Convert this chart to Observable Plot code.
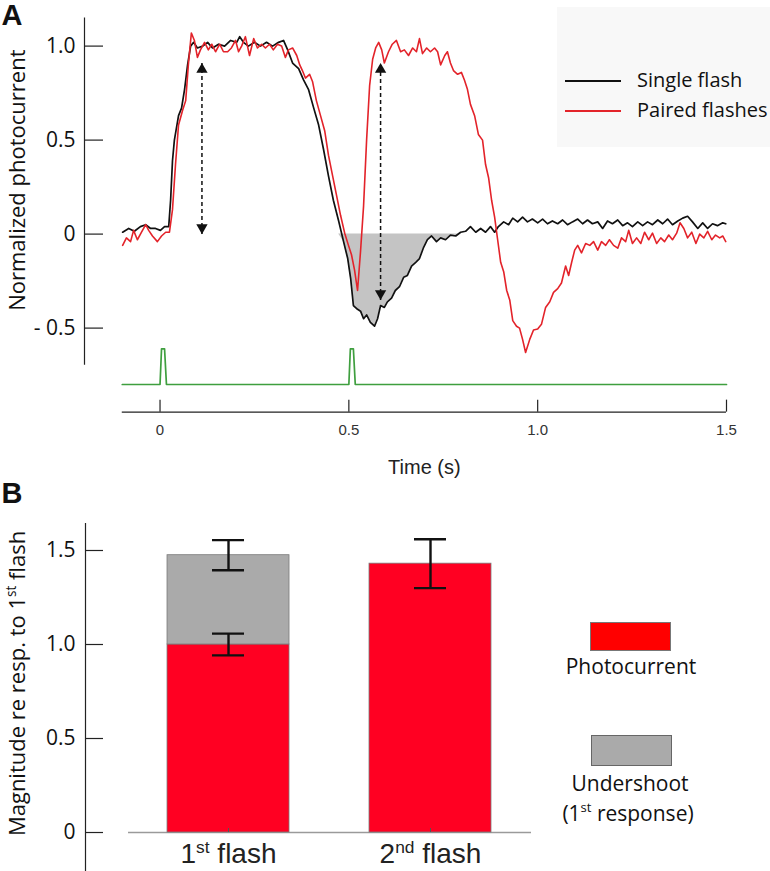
<!DOCTYPE html>
<html><head><meta charset="utf-8">
<script src="https://cdn.jsdelivr.net/npm/d3@7"></script>
<script src="https://cdn.jsdelivr.net/npm/@observablehq/plot@0.6"></script>
<style>
body{margin:0;background:#fff;}
#wrap{position:relative;width:770px;height:871px;overflow:hidden;font-family:"Open Sans",sans-serif;color:#111;}
#wrap svg{position:absolute;left:0;}
.abs{position:absolute;}
.lg-text{position:absolute;white-space:nowrap;line-height:1;}
</style></head><body><div id="wrap"></div>
<script>
// ---------------- Panel A data ----------------
const singleFlash = [[-0.099,0.01],[-0.083,0.03],[-0.068,0.015],[-0.052,0.04],[-0.038,0.05],[-0.025,0.03],[-0.012,0.03],[0.001,0.02],[0.012,0.04],[0.023,0.04],[0.028,0.18],[0.033,0.39],[0.038,0.5],[0.049,0.63],[0.057,0.67],[0.065,0.77],[0.073,0.9],[0.081,1.0],[0.089,1.02],[0.099,0.99],[0.113,1.0],[0.126,1.02],[0.139,0.99],[0.155,1.01],[0.171,1.0],[0.187,1.03],[0.203,1.02],[0.211,1.05],[0.221,1.02],[0.234,1.0],[0.25,1.02],[0.266,1.0],[0.282,1.02],[0.298,1.0],[0.314,1.02],[0.327,1.03],[0.338,0.98],[0.351,0.91],[0.367,0.88],[0.38,0.82],[0.393,0.77],[0.407,0.67],[0.42,0.58],[0.433,0.45],[0.446,0.31],[0.459,0.18],[0.473,0.07],[0.486,-0.04],[0.497,-0.13],[0.505,-0.24],[0.512,-0.38],[0.523,-0.40],[0.531,-0.41],[0.539,-0.45],[0.547,-0.43],[0.557,-0.47],[0.568,-0.49],[0.576,-0.45],[0.584,-0.38],[0.594,-0.39],[0.602,-0.36],[0.613,-0.34],[0.623,-0.30],[0.634,-0.28],[0.645,-0.23],[0.655,-0.22],[0.666,-0.17],[0.677,-0.15],[0.687,-0.13],[0.698,-0.07],[0.708,-0.03],[0.719,-0.01],[0.732,-0.04],[0.743,-0.02],[0.756,-0.03],[0.769,-0.005],[0.783,-0.01],[0.796,0.01],[0.809,0.015],[0.822,0.04],[0.836,0.01],[0.849,0.03],[0.862,0.01],[0.875,0.04],[0.886,0.01],[0.896,0.04],[0.91,0.065],[0.923,0.05],[0.934,0.085],[0.947,0.065],[0.96,0.09],[0.973,0.065],[0.986,0.08],[1.0,0.06],[1.013,0.08],[1.026,0.055],[1.039,0.07],[1.053,0.055],[1.066,0.075],[1.079,0.05],[1.092,0.065],[1.106,0.08],[1.119,0.055],[1.132,0.075],[1.145,0.055],[1.159,0.065],[1.172,0.03],[1.185,0.07],[1.198,0.055],[1.212,0.075],[1.225,0.045],[1.238,0.06],[1.251,0.04],[1.265,0.065],[1.278,0.045],[1.291,0.065],[1.304,0.05],[1.318,0.075],[1.331,0.055],[1.344,0.08],[1.357,0.05],[1.371,0.07],[1.384,0.085],[1.397,0.095],[1.41,0.065],[1.424,0.03],[1.437,0.06],[1.45,0.03],[1.463,0.055],[1.476,0.045],[1.49,0.06],[1.498,0.055]];

const pairedFlashes = [[-0.099,-0.06],[-0.089,-0.02],[-0.078,-0.04],[-0.07,0.02],[-0.06,-0.03],[-0.049,0.01],[-0.038,0.05],[-0.03,0.02],[-0.02,-0.01],[-0.007,-0.04],[0.004,-0.01],[0.015,0.01],[0.025,0.01],[0.033,0.13],[0.041,0.37],[0.049,0.58],[0.06,0.66],[0.068,0.71],[0.075,0.9],[0.083,1.07],[0.091,1.03],[0.099,0.94],[0.107,0.98],[0.118,1.02],[0.128,0.98],[0.137,1.01],[0.147,0.97],[0.158,1.01],[0.168,0.97],[0.179,0.97],[0.189,0.99],[0.2,1.03],[0.208,0.97],[0.216,1.0],[0.226,1.05],[0.237,0.95],[0.248,1.04],[0.258,0.99],[0.269,1.01],[0.279,0.99],[0.29,1.01],[0.3,0.98],[0.311,1.01],[0.322,1.0],[0.332,0.94],[0.34,0.98],[0.351,0.99],[0.362,0.95],[0.37,0.9],[0.377,0.87],[0.385,0.83],[0.396,0.85],[0.404,0.81],[0.414,0.71],[0.425,0.63],[0.436,0.55],[0.446,0.42],[0.457,0.31],[0.467,0.21],[0.478,0.1],[0.489,0.005],[0.499,-0.06],[0.507,-0.11],[0.515,-0.19],[0.523,-0.30],[0.531,-0.09],[0.539,0.15],[0.547,0.5],[0.555,0.79],[0.563,0.93],[0.571,0.99],[0.579,1.02],[0.587,0.98],[0.594,0.91],[0.605,0.97],[0.615,1.01],[0.626,1.03],[0.637,0.97],[0.647,0.98],[0.658,0.95],[0.669,0.99],[0.679,0.97],[0.687,1.04],[0.695,0.96],[0.706,0.99],[0.716,0.97],[0.727,0.99],[0.735,0.97],[0.743,0.9],[0.754,0.95],[0.761,0.97],[0.769,0.91],[0.777,0.87],[0.788,0.85],[0.798,0.86],[0.806,0.82],[0.814,0.77],[0.822,0.69],[0.833,0.63],[0.843,0.53],[0.854,0.5],[0.862,0.37],[0.87,0.3],[0.878,0.18],[0.886,0.09],[0.894,-0.03],[0.902,-0.15],[0.91,-0.2],[0.918,-0.3],[0.926,-0.35],[0.934,-0.46],[0.944,-0.49],[0.952,-0.5],[0.96,-0.56],[0.968,-0.63],[0.979,-0.56],[0.989,-0.51],[1.0,-0.505],[1.01,-0.48],[1.021,-0.39],[1.032,-0.36],[1.042,-0.31],[1.053,-0.29],[1.063,-0.26],[1.074,-0.17],[1.082,-0.22],[1.09,-0.15],[1.098,-0.085],[1.106,-0.06],[1.116,-0.1],[1.127,-0.05],[1.138,-0.06],[1.148,-0.04],[1.159,-0.085],[1.169,-0.04],[1.18,-0.06],[1.19,-0.03],[1.201,-0.06],[1.212,-0.075],[1.222,-0.02],[1.233,-0.04],[1.241,0.02],[1.251,-0.05],[1.262,-0.02],[1.273,-0.05],[1.283,0.01],[1.294,-0.03],[1.304,0.005],[1.315,-0.05],[1.326,-0.02],[1.336,-0.04],[1.347,-0.005],[1.357,-0.03],[1.368,0.005],[1.377,0.06],[1.387,0.03],[1.397,-0.02],[1.408,0.01],[1.419,-0.05],[1.429,0.0],[1.44,-0.02],[1.45,0.015],[1.461,-0.03],[1.471,-0.005],[1.482,-0.02],[1.49,-0.01],[1.498,-0.04]];

// light stimulus trace (drawn in the same units below the responses)
const stimulus = [[-0.1,-0.8],[0.0,-0.8],[0.004,-0.61],[0.012,-0.61],[0.017,-0.8],[0.5,-0.8],[0.504,-0.61],[0.512,-0.61],[0.517,-0.8],[1.5,-0.8]];

// undershoot window (grey area under zero)
const undershootWindow = [0.47, 0.80];

// amplitude arrows
const arrowTime = [0.111, 0.584];
const arrowBottom = [0.0, -0.35];
const arrowTop = [0.91, 0.91];

const yTicksA = [1.0, 0.5, 0, -0.5];
const yTickLabelsA = ["1.0", "0.5", "0", "- 0.5"];
const xTicksA = [0, 0.5, 1.0, 1.5];
const xTickLabelsA = ["0", "0.5", "1.0", "1.5"];
const legendA = ["Single flash", "Paired flashes"];

// ---------------- Panel B data ----------------
const categories = ["1st flash", "2nd flash"];
const photocurrent = [1.0, 1.43];
const photocurrentErr = [0.058, 0.13];
const undershoot = [0.475, 0];
const undershootErr = [0.08, 0];
const yTicksB = [0, 0.5, 1.0, 1.5];
const yTickLabelsB = ["0", "0.5", "1.0", "1.5"];
const legendB = ["Photocurrent", "Undershoot", "(1st response)"];

// ---------------- layout / style ----------------
const BLACK = "#111", RED = "#e3232a", GREEN = "#3f9f3f", GREY_FILL = "#c4c4c4";
const BAR_RED = "#ff0022", BAR_GREY = "#aaaaaa";
const xDomA = [-0.2, 1.5], yDomA = [-1.3, 1.2];
const pxA = 642 / 1.7, pyA = 188;
const xAxisV = -0.947;           // level of the time axis
const yAxisTop = 1.149, yAxisBottom = -0.697;

const arrows = arrowTime.map((t, i) => ({t, lo: arrowBottom[i], hi: arrowTop[i]}));
const areaData = singleFlash.filter(d => d[0] >= undershootWindow[0] && d[0] <= undershootWindow[1]);

const plotA = Plot.plot({
  width: 770, height: 480,
  marginLeft: 84, marginRight: 44, marginTop: 8, marginBottom: 2,
  x: {domain: xDomA, axis: null},
  y: {domain: yDomA, axis: null},
  style: {fontFamily: "Open Sans", background: "transparent", overflow: "visible"},
  marks: [
    Plot.areaY(areaData, {x: d => d[0], y1: 0, y2: d => Math.min(d[1], 0), fill: GREY_FILL}),
    Plot.line(singleFlash, {x: d => d[0], y: d => d[1], stroke: BLACK, strokeWidth: 1.7}),
    Plot.line(pairedFlashes, {x: d => d[0], y: d => d[1], stroke: RED, strokeWidth: 1.6}),
    Plot.line(stimulus, {x: d => d[0], y: d => d[1], stroke: GREEN, strokeWidth: 1.7, curve: "linear"}),
    // dashed amplitude arrows
    Plot.link(arrows, {x1: "t", x2: "t", y1: "lo", y2: "hi", stroke: BLACK, strokeWidth: 1.5, strokeDasharray: "4,3"}),
    Plot.dot(arrows, {x: "t", y: "hi", symbol: "triangle", r: 4.2, fill: BLACK, stroke: "none", dy: 6.5}),
    Plot.dot(arrows, {x: "t", y: "lo", symbol: "triangle", rotate: 180, r: 4.2, fill: BLACK, stroke: "none", dy: -6.5}),
    // y axis
    Plot.ruleX([xDomA[0]], {y1: yAxisTop, y2: yAxisBottom, stroke: "#222", strokeWidth: 1.2}),
    Plot.ruleY(yTicksA, {y: d => d, x1: xDomA[0], x2: xDomA[0] + 19 / pxA, stroke: "#222", strokeWidth: 1.2}),
    Plot.text(yTicksA, {x: xDomA[0], y: d => d, text: (d, i) => yTickLabelsA[i], dx: -9, textAnchor: "end", fontSize: 21, fill: "#111"}),
    Plot.text(["Normalized photocurrent"], {x: xDomA[0], y: 0.287, rotate: -90, dx: -67, fontSize: 22, fill: "#111"}),
    // time axis
    Plot.ruleY([xAxisV], {x1: -0.1, x2: 1.5, stroke: "#222", strokeWidth: 1.2}),
    Plot.ruleX(xTicksA, {x: d => d, y1: xAxisV, y2: xAxisV + 12 / pyA, stroke: "#222", strokeWidth: 1.2}),
    Plot.text(xTicksA, {x: d => d, y: xAxisV, dy: 18, text: (d, i) => xTickLabelsA[i], fontFamily: "Liberation Sans", fontSize: 15, fill: "#333"}),
    Plot.text(["Time (s)"], {x: 0.7, y: xAxisV, dy: 55, fontFamily: "Liberation Sans", fontSize: 20, fill: "#222"}),
    Plot.text(["A"], {frameAnchor: "top-left", dx: -83, dy: -4, textAnchor: "start", lineAnchor: "top", fontFamily: "Liberation Sans", fontWeight: "bold", fontSize: 29, fill: "#111"})
  ]
});

// ---------------- Panel B ----------------
const xDomB = [-0.708, 1.5], yDomB = [-0.2074, 1.6436];
const pxB = 202;
const halfBar = 61 / pxB, capHalf = 16 / pxB;
const barIdx = categories.map((c, i) => i);

const plotB = Plot.plot({
  width: 770, height: 391,
  marginLeft: 85, marginRight: 239, marginTop: 43, marginBottom: 0,
  x: {domain: xDomB, axis: null},
  y: {domain: yDomB, axis: null},
  style: {fontFamily: "Open Sans", background: "transparent", overflow: "visible"},
  marks: [
    Plot.ruleY([0], {x1: -0.495, x2: xDomB[1], stroke: "#9a9a9a", strokeWidth: 1.5}),
    Plot.rectY(barIdx, {x1: i => i - halfBar, x2: i => i + halfBar, y1: 0, y2: i => photocurrent[i], fill: BAR_RED, stroke: "#7a7a7a", strokeWidth: 0.8}),
    Plot.rectY(barIdx.filter(i => undershoot[i] > 0), {x1: i => i - halfBar, x2: i => i + halfBar, y1: i => photocurrent[i], y2: i => photocurrent[i] + undershoot[i], fill: BAR_GREY, stroke: "#7a7a7a", strokeWidth: 0.8}),
    Plot.ruleX(barIdx, {x: i => i, y1: 0, y2: 4 / 188, stroke: "#555", strokeWidth: 1}),
    // error bars: photocurrent
    Plot.ruleX(barIdx, {x: i => i, y1: i => photocurrent[i] - photocurrentErr[i], y2: i => photocurrent[i] + photocurrentErr[i], stroke: BLACK, strokeWidth: 2.4}),
    Plot.ruleY(barIdx, {y: i => photocurrent[i] - photocurrentErr[i], x1: i => i - capHalf, x2: i => i + capHalf, stroke: BLACK, strokeWidth: 2.4}),
    Plot.ruleY(barIdx, {y: i => photocurrent[i] + photocurrentErr[i], x1: i => i - capHalf, x2: i => i + capHalf, stroke: BLACK, strokeWidth: 2.4}),
    // error bars: undershoot (total)
    Plot.ruleX(barIdx.filter(i => undershoot[i] > 0), {x: i => i, y1: i => photocurrent[i] + undershoot[i] - undershootErr[i], y2: i => photocurrent[i] + undershoot[i] + undershootErr[i], stroke: BLACK, strokeWidth: 2.4}),
    Plot.ruleY(barIdx.filter(i => undershoot[i] > 0), {y: i => photocurrent[i] + undershoot[i] - undershootErr[i], x1: i => i - capHalf, x2: i => i + capHalf, stroke: BLACK, strokeWidth: 2.4}),
    Plot.ruleY(barIdx.filter(i => undershoot[i] > 0), {y: i => photocurrent[i] + undershoot[i] + undershootErr[i], x1: i => i - capHalf, x2: i => i + capHalf, stroke: BLACK, strokeWidth: 2.4}),
    // y axis
    Plot.ruleX([xDomB[0]], {y1: yDomB[1], y2: yDomB[0], stroke: "#222", strokeWidth: 1.2}),
    Plot.ruleY(yTicksB, {y: d => d, x1: xDomB[0], x2: xDomB[0] + 18 / pxB, stroke: "#222", strokeWidth: 1.2}),
    Plot.text(yTicksB, {x: xDomB[0], y: d => d, text: (d, i) => yTickLabelsB[i], dx: -10, textAnchor: "end", fontSize: 21, fill: "#111"}),
    Plot.text(["Magnitude re resp. to 1st flash"], {x: xDomB[0], y: 0.793, rotate: -90, dx: -68, fontSize: 22, fill: "#111"}),
    Plot.text(categories, {x: (d, i) => i, y: 0, dy: 22, fontFamily: "Liberation Sans", fontSize: 28, fill: "#222"}),
    Plot.text(["B"], {frameAnchor: "top-left", dx: -84, dy: -41, textAnchor: "start", lineAnchor: "top", fontFamily: "Liberation Sans", fontWeight: "bold", fontSize: 29, fill: "#111"})
  ]
});

// superscript ordinals ("1st" -> 1<sup>st</sup>)
function supify(root) {
  root.querySelectorAll("text").forEach(t => {
    if (t.querySelector("tspan")) return;
    const s = t.textContent;
    const m = s.match(/^(.*?\d)(st|nd|rd|th)(\b.*)$/);
    if (!m) return;
    const ns = "http://www.w3.org/2000/svg";
    t.textContent = "";
    const a = document.createElementNS(ns, "tspan"); a.textContent = m[1];
    const b = document.createElementNS(ns, "tspan"); b.textContent = m[2];
    b.setAttribute("font-size", "62%"); b.setAttribute("baseline-shift", "super");
    const c = document.createElementNS(ns, "tspan"); c.textContent = m[3];
    t.append(a, b, c);
  });
}
supify(plotA); supify(plotB);

const wrap = document.getElementById("wrap");
plotA.style.top = "0px";
plotB.style.top = "480px";
wrap.append(plotA, plotB);

// ---------------- HTML legends ----------------
function el(cls, css, html) {
  const d = document.createElement("div");
  d.className = cls; d.style.cssText = css; if (html != null) d.innerHTML = html;
  wrap.appendChild(d); return d;
}
el("abs", "left:557px;top:7px;width:213px;height:140px;background:#f8f8f8;");
[BLACK, RED].forEach((c, i) => {
  const y = 81 + i * 30;
  el("abs", `left:565px;top:${y - 1}px;width:56px;height:2px;background:${c};`);
  el("lg-text", `left:637px;top:${y - 11}px;font-size:20px;`, legendA[i]);
});
el("abs", "left:590px;top:622px;width:81px;height:29px;box-sizing:border-box;background:#ff0000;border:1px solid #777;");
el("lg-text", "left:531px;top:656px;width:200px;text-align:center;font-size:21px;", legendB[0]);
el("abs", "left:591px;top:735px;width:81px;height:31px;box-sizing:border-box;background:#aaaaaa;border:1px solid #666;");
el("lg-text", "left:530px;top:773px;width:200px;text-align:center;font-size:21px;", legendB[1]);
el("lg-text", "left:528px;top:801px;width:200px;text-align:center;font-size:21px;", legendB[2].replace(/(\d)(st)/, "$1<sup style='font-size:62%;vertical-align:0.7em'>$2</sup>"));
</script></body></html>
